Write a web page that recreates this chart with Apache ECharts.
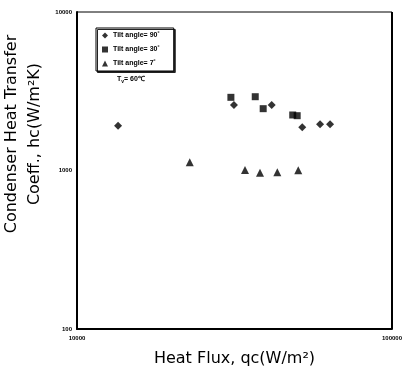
<!DOCTYPE html>
<html><head><meta charset="utf-8">
<script src="https://cdn.jsdelivr.net/npm/echarts@6/dist/echarts.min.js"></script>
<style>html,body{margin:0;padding:0;background:#fff}#c{width:404px;height:372px}</style>
</head><body><div id="c"></div>
<script>
var seriesNames = ['Tilt angle= 90˚', 'Tilt angle= 30˚', 'Tilt angle= 7˚'];
var flux90 = [13500, 31500, 41500, 51900, 59100, 63600];
var coef90 = [1917, 2590, 2590, 1873, 1956, 1956];
var flux30 = [30800, 36800, 39000, 48400, 50000];
var coef30 = [2895, 2921, 2455, 2240, 2217];
var flux7 = [22800, 34150, 38100, 43250, 50400];
var coef7 = [1127, 1007, 968, 974, 1003];
var xTicks = [10000, 100000];
var yTicks = [100, 1000, 10000];

function pairs(xs, ys){ return xs.map(function(x,i){ return [x, ys[i]]; }); }

var chart = echarts.init(document.getElementById('c'));
var symbols = ['diamond', 'rect', 'triangle'];
var sizes = [8, 7, 8];
var data = [pairs(flux90, coef90), pairs(flux30, coef30), pairs(flux7, coef7)];
var titleFont = { fontSize: 16, fill: '#000', fontFamily: 'DejaVu Sans' };
chart.setOption({
  animation: false,
  backgroundColor: '#fff',
  grid: { left: 77, right: 12, top: 12, bottom: 43, containLabel: false, outerBoundsMode: 'none' },
  xAxis: {
    type: 'log', logBase: 10, min: xTicks[0], max: xTicks[xTicks.length-1],
    axisLine: { lineStyle: { color: '#000', width: 2 } },
    axisTick: { show: false }, splitLine: { show: false },
    axisLabel: { fontSize: 6, fontWeight: 'bold', color: '#000', margin: 6,
      fontFamily: 'Liberation Sans', showMinLabel: true, showMaxLabel: true,
      formatter: function(v){ return String(Math.round(v)); } },
    name: 'Heat Flux, qc(W/m²)', nameLocation: 'middle', nameGap: 22,
    nameTextStyle: { fontSize: 16, color: '#000', fontFamily: 'DejaVu Sans' }
  },
  yAxis: {
    type: 'log', logBase: 10, min: yTicks[0], max: yTicks[yTicks.length-1],
    axisLine: { lineStyle: { color: '#000', width: 2 } },
    axisTick: { show: false }, splitLine: { show: false },
    axisLabel: { fontSize: 6, fontWeight: 'bold', color: '#000', margin: 5,
      fontFamily: 'Liberation Sans',
      formatter: function(v){ return String(Math.round(v)); } }
  },
  legend: {
    orient: 'vertical', left: 96, top: 28, itemGap: 7,
    itemWidth: 6, itemHeight: 6,
    padding: [4, 14, 4, 6],
    borderColor: '#000', borderWidth: 1, backgroundColor: '#fff',
    shadowColor: '#222', shadowOffsetX: 1.5, shadowOffsetY: 1.5, shadowBlur: 0,
    textStyle: { fontSize: 7, fontWeight: 'bold', color: '#000', fontFamily: 'Liberation Sans' },
    data: seriesNames.map(function(n,i){ return { name: n, icon: symbols[i] }; })
  },
  graphic: [{
    type: 'text', left: 117, top: 76,
    style: { text: '{a|T}{b|v}{a|= 60℃}', fill: '#000',
      rich: { a: { fontSize: 7, fontWeight: 'bold', fontFamily: 'Liberation Sans' },
              b: { fontSize: 5, fontWeight: 'bold', fontFamily: 'Liberation Sans', padding: [4,0,0,0] } } }
  }, {
    type: 'text', x: 12, y: 134, rotation: Math.PI/2,
    style: Object.assign({ text: 'Condenser Heat Transfer', align: 'center', verticalAlign: 'middle' }, titleFont)
  }, {
    type: 'text', x: 35, y: 134, rotation: Math.PI/2,
    style: Object.assign({ text: 'Coeff., hc(W/m²K)', align: 'center', verticalAlign: 'middle' }, titleFont)
  }, {
    type: 'line', shape: { x1: 392, y1: 12, x2: 392, y2: 329 }, style: { stroke: '#000', lineWidth: 2 }
  }, {
    type: 'line', shape: { x1: 77, y1: 12, x2: 392, y2: 12 }, style: { stroke: '#000', lineWidth: 1 }
  }],
  series: seriesNames.map(function(n,i){
    return { name: n, type: 'scatter', symbol: symbols[i], symbolSize: sizes[i],
      itemStyle: { color: '#000' }, data: data[i] };
  })
});
</script></body></html>
